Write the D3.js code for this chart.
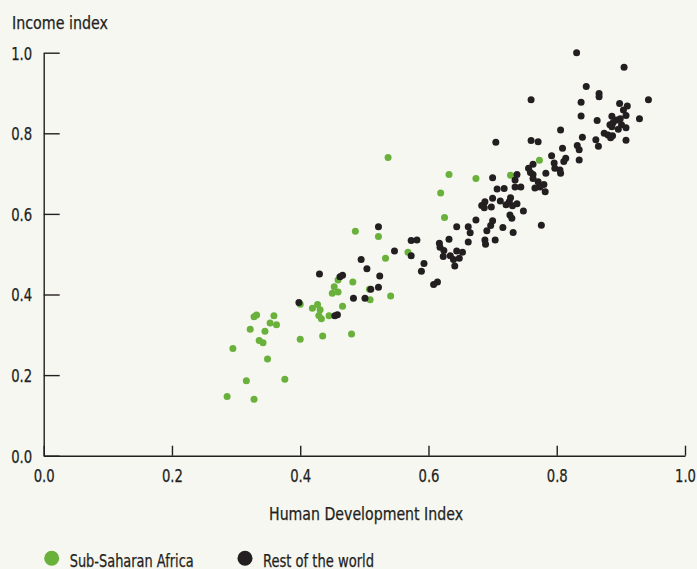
<!DOCTYPE html>
<html>
<head>
<meta charset="utf-8">
<script src="https://cdn.jsdelivr.net/npm/d3@7"></script>
<style>
  html, body { margin: 0; padding: 0; background: #f7f7f2; }
  svg { display: block; }
  text { font-family: "DejaVu Sans Condensed", "Liberation Sans Narrow", sans-serif; fill: #231f20; stroke: #231f20; stroke-width: 0.25px; }
</style>
</head>
<body>
<svg id="chart" width="697" height="569"></svg>
<script>
// ---- data ----
const seriesNames = ["Sub-Saharan Africa", "Rest of the world"];
const seriesColors = ["#69b13b", "#231f20"];
const xTicks = [0, 0.2, 0.4, 0.6, 0.8, 1.0];
const yTicks = [0, 0.2, 0.4, 0.6, 0.8, 1.0];
const xTitle = "Human Development Index";
const yTitle = "Income index";

// [HDI, income index]
const subSaharanAfrica = [
  [0.537,0.740],[0.619,0.652],[0.486,0.557],[0.522,0.544],[0.533,0.490],[0.568,0.505],
  [0.482,0.431],[0.459,0.436],[0.453,0.419],[0.450,0.403],[0.459,0.406],[0.466,0.371],
  [0.508,0.413],[0.509,0.387],[0.541,0.396],[0.400,0.376],[0.419,0.366],[0.427,0.375],
  [0.431,0.362],[0.429,0.348],[0.433,0.340],[0.445,0.347],[0.400,0.289],[0.435,0.297],
  [0.480,0.302],[0.328,0.345],[0.332,0.349],[0.359,0.347],[0.353,0.329],[0.363,0.325],
  [0.322,0.314],[0.345,0.309],[0.336,0.286],[0.342,0.280],[0.295,0.266],[0.349,0.240],
  [0.316,0.186],[0.376,0.190],[0.286,0.147],[0.328,0.140],[0.632,0.698],[0.674,0.688],
  [0.728,0.696],[0.773,0.733],[0.625,0.591]
];
const restOfWorld = [
  [0.831,1.000],[0.905,0.964],[0.846,0.916],[0.866,0.899],[0.866,0.891],[0.760,0.883],
  [0.943,0.883],[0.838,0.877],[0.898,0.874],[0.910,0.868],[0.838,0.843],[0.863,0.832],
  [0.886,0.842],[0.904,0.858],[0.908,0.844],[0.899,0.836],[0.894,0.833],[0.888,0.827],
  [0.883,0.821],[0.901,0.821],[0.908,0.814],[0.929,0.836],[0.896,0.810],[0.886,0.816],
  [0.874,0.800],[0.880,0.796],[0.887,0.794],[0.884,0.789],[0.840,0.790],[0.861,0.784],
  [0.865,0.768],[0.832,0.770],[0.835,0.759],[0.908,0.783],[0.806,0.808],[0.809,0.763],
  [0.760,0.782],[0.771,0.779],[0.705,0.778],[0.792,0.744],[0.814,0.738],[0.811,0.730],
  [0.835,0.734],[0.796,0.726],[0.797,0.713],[0.805,0.709],[0.806,0.701],[0.763,0.723],
  [0.756,0.713],[0.759,0.703],[0.763,0.698],[0.763,0.688],[0.783,0.701],[0.738,0.698],
  [0.735,0.684],[0.744,0.667],[0.735,0.667],[0.771,0.680],[0.774,0.667],[0.766,0.664],
  [0.780,0.673],[0.782,0.655],[0.718,0.663],[0.707,0.662],[0.700,0.690],[0.728,0.640],
  [0.700,0.639],[0.712,0.632],[0.721,0.623],[0.726,0.631],[0.688,0.630],[0.683,0.621],
  [0.687,0.615],[0.698,0.617],[0.738,0.625],[0.731,0.620],[0.748,0.607],[0.727,0.597],
  [0.730,0.589],[0.674,0.585],[0.700,0.583],[0.697,0.571],[0.716,0.566],[0.662,0.568],
  [0.644,0.568],[0.776,0.572],[0.691,0.558],[0.665,0.553],[0.732,0.554],[0.688,0.535],
  [0.689,0.525],[0.704,0.535],[0.662,0.530],[0.632,0.537],[0.617,0.527],[0.618,0.517],
  [0.624,0.509],[0.623,0.494],[0.634,0.496],[0.639,0.487],[0.641,0.471],[0.644,0.508],
  [0.653,0.505],[0.648,0.490],[0.593,0.477],[0.589,0.458],[0.608,0.425],[0.614,0.431],
  [0.573,0.534],[0.582,0.535],[0.573,0.496],[0.547,0.508],[0.522,0.568],[0.495,0.487],
  [0.504,0.464],[0.524,0.446],[0.522,0.418],[0.510,0.413],[0.483,0.391],[0.501,0.391],
  [0.430,0.451],[0.462,0.444],[0.466,0.448],[0.398,0.380],[0.454,0.347],[0.458,0.350]
];

// ---- chart ----
const svg = d3.select("#chart");
const ink = "#231f20";
const fontSize = 17.5;
const x = d3.scaleLinear().domain([0, 1]).range([43.7, 685]);
const y = d3.scaleLinear().domain([0, 1]).range([455.7, 52.7]);

// squeeze a text to a condensed width (the original face is a condensed sans)
function condense(sel, w) {
  sel.attr("textLength", w).attr("lengthAdjust", "spacingAndGlyphs");
}

// y axis (ticks pointing inward)
const gy = svg.append("g").attr("transform", `translate(${x(0)},0)`)
  .call(d3.axisLeft(y).tickValues(yTicks).tickFormat(d3.format(".1f"))
    .tickSizeInner(-16).tickSizeOuter(0).tickPadding(11.5));
gy.select(".domain").attr("stroke", ink).attr("stroke-width", 1.4);
gy.selectAll(".tick line").attr("stroke", ink).attr("stroke-width", 1.4);
gy.selectAll(".tick text").attr("font-size", fontSize).attr("fill", ink)
  .attr("font-family", null).attr("dy", "0.36em").call(condense, 21);

// x axis (ticks pointing upward)
const gx = svg.append("g").attr("transform", `translate(0,${y(0)})`)
  .call(d3.axisBottom(x).tickValues(xTicks).tickFormat(d3.format(".1f"))
    .tickSizeInner(-10).tickSizeOuter(0));
gx.select(".domain").attr("stroke", ink).attr("stroke-width", 1.4);
gx.selectAll(".tick line").attr("stroke", ink).attr("stroke-width", 1.4);
gx.selectAll(".tick text").attr("font-size", fontSize).attr("fill", ink)
  .attr("font-family", null).attr("y", 26.5).attr("dy", null).call(condense, 21);

// titles
svg.append("text").attr("x", 12).attr("y", 28.5).attr("font-size", fontSize)
  .text(yTitle).call(condense, 96);
svg.append("text").attr("x", 269).attr("y", 520).attr("font-size", fontSize)
  .text(xTitle).call(condense, 194);

// points
const series = [subSaharanAfrica, restOfWorld];
series.forEach((data, i) => {
  svg.append("g").selectAll("circle").data(data).join("circle")
    .attr("cx", d => x(d[0]))
    .attr("cy", d => y(d[1]))
    .attr("r", 3.5)
    .attr("fill", seriesColors[i]);
});

// legend
const legendX = [51.7, 245];
const legendW = [124, 111];
const lg = svg.append("g");
seriesNames.forEach((name, i) => {
  lg.append("circle").attr("cx", legendX[i]).attr("cy", 558.3).attr("r", 7.5).attr("fill", seriesColors[i]);
  lg.append("text").attr("x", legendX[i] + 18).attr("y", 566.5).attr("font-size", fontSize)
    .text(name).call(condense, legendW[i]);
});
</script>
</body>
</html>
